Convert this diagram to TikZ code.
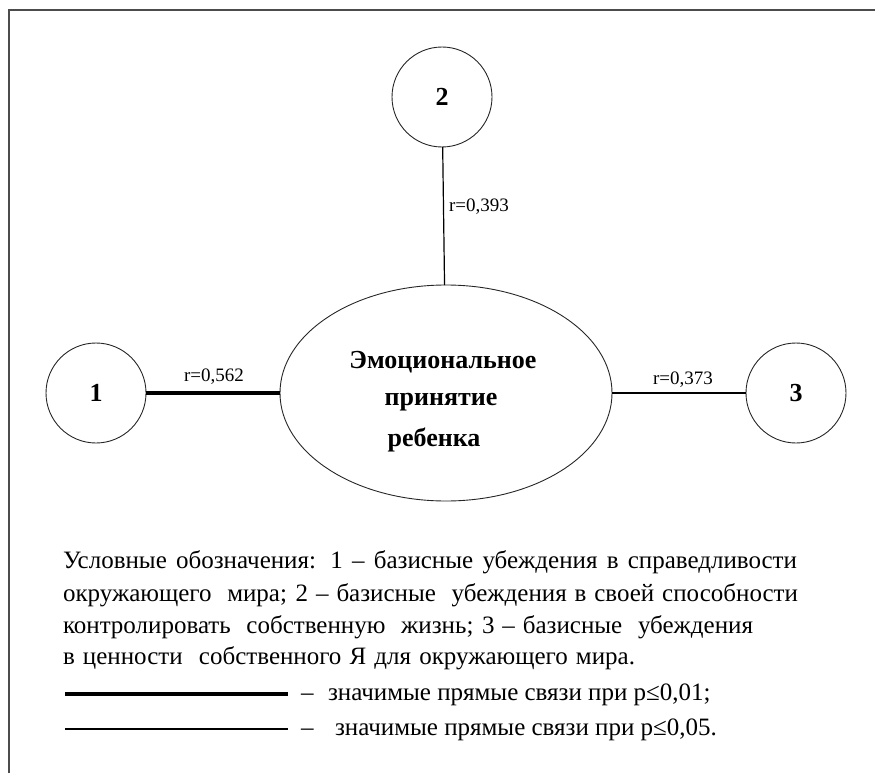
\documentclass[tikz,border=0pt]{standalone}
\usepackage{fontspec}
\setmainfont{Liberation Serif}
\usetikzlibrary{shapes.geometric}
\begin{document}
\begin{tikzpicture}[x=1pt,y=-1pt,
  every node/.style={inner sep=0pt,outer sep=0pt},
  factor/.style={circle,draw=black!85,line width=0.9pt,minimum size=100pt,font=\fontsize{26}{30}\selectfont\bfseries},
  central/.style={ellipse,draw=black!85,line width=0.9pt,minimum width=332pt,minimum height=216pt},
  ctext/.style={font=\fontsize{26}{30}\selectfont\bfseries},
  rlabel/.style={font=\fontsize{19}{22}\selectfont},
  weaklink/.style={line width=1.2pt},
  stronglink/.style={line width=4.2pt},
  legtext/.style={anchor=base west,font=\fontsize{25}{30}\selectfont}]
\useasboundingbox (0,0) rectangle (875,773);
% frame (top and left edges)
\coordinate (fa) at (875,10);
\coordinate (fb) at (9,10);
\coordinate (fc) at (9,773);
\draw[line width=1.8pt,black!70] (fa) -- (fb) -- (fc);
% nodes
\node[central] (c) at (446,393) {};
\node[ctext] (t1) at (443,362) {Эмоциональное};
\node[ctext] (t2) at (441,402) {принятие};
\node[ctext] (t3) at (434,440) {ребенка};
\node[factor] (n1) at (96,393) {1};
\node[factor] (n2) at (442,97) {2};
\node[factor] (n3) at (796,393) {3};
% links
\draw[stronglink] (n1) -- (c);
\draw[weaklink] (n2) -- (c);
\draw[weaklink] (c) -- (n3);
\node[rlabel] (r1) at (214,377) {r=0,562};
\node[rlabel,anchor=west] (r2) at (449,207) {r=0,393};
\node[rlabel] (r3) at (683,380) {r=0,373};
% legend
\node[legtext] (l1) at (63,568) {\makebox[734pt][s]{Условные обозначения: 1 – базисные убеждения в справедливости}};
\node[legtext] (l2) at (63,601) {\makebox[735pt][s]{окружающего \ мира; 2 – базисные \ убеждения в своей способности}};
\node[legtext] (l3) at (63,633) {\makebox[690pt][s]{контролировать \ собственную \ жизнь; 3 – базисные \ убеждения}};
\node[legtext] (l4) at (63,664) {\makebox[572pt][s]{в ценности \ собственного Я для окружающего мира.}};
\coordinate (ka) at (65,694);
\coordinate (kb) at (288,694);
\coordinate (ta) at (65,729);
\coordinate (tb) at (288,729);
\draw[stronglink] (ka) -- (kb);
\draw[weaklink] (ta) -- (tb);
\node[legtext] (d1) at (301,700) {–};
\node[legtext] (k1) at (328,700) {значимые прямые связи при p≤0,01;};
\node[legtext] (d2) at (301,735) {–};
\node[legtext] (k2) at (335,735) {значимые прямые связи при p≤0,05.};
\end{tikzpicture}
\end{document}
